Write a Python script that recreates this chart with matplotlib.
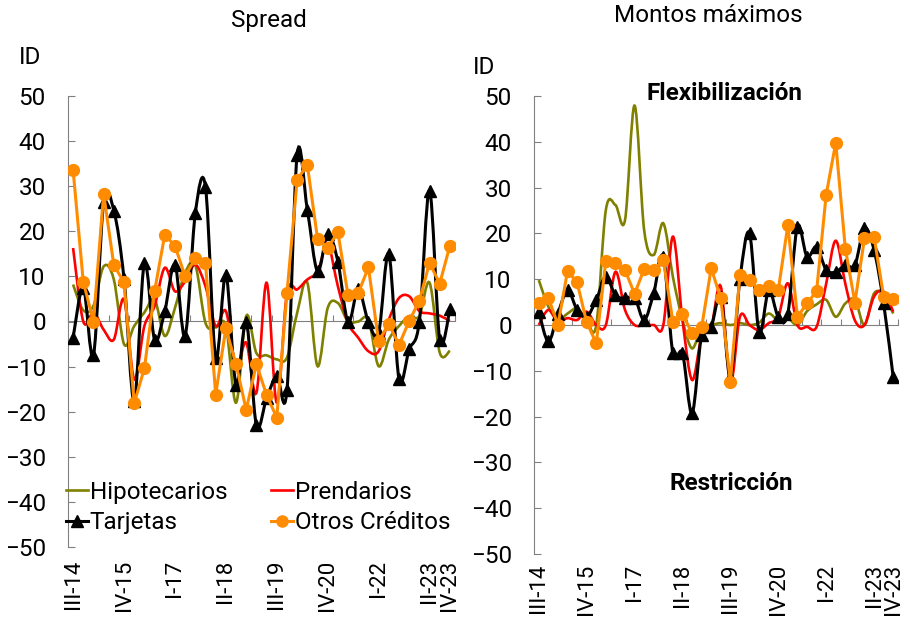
"""Encuesta de crédito: Spread y Montos máximos (ID por cartera)."""
import numpy as np
import matplotlib
matplotlib.use("Agg")
import matplotlib.pyplot as plt
from matplotlib.path import Path
from matplotlib.patches import PathPatch
from matplotlib.lines import Line2D

plt.rcParams['font.family'] = ['Roboto', 'DejaVu Sans']

ROMAN = ["I", "II", "III", "IV"]
quarters = []
for year in range(2014, 2024):
    for q in range(4):
        if year == 2014 and q < 2:
            continue
        quarters.append(f"{ROMAN[q]}-{str(year)[2:]}")
tick_idx = [0, 5, 10, 15, 20, 25, 30, 35, 37]

# Spread
hip_s = [8.2, 2.5, 3.5, 12.2, 9.3, -5.0, -1.0, 2.0, 4.9, -3.2, 3.0, 10.8, 12.5,
         -0.3, -1.3, -1.0, -18.0, 1.2, -7.0, -7.5, -8.4, -8.0, 1.9, 8.6, -9.9,
         3.0, 4.1, 0.0, 0.0, 0.4, -9.9, -4.0, -1.0, 1.2, 1.2, 8.6, -6.9, -6.5]
red_s = [16.3, 0.0, 2.0, -1.8, -4.0, 4.9, -12.8, -1.0, 3.4, 11.9, 6.7, 8.9, 12.6,
         7.8, -1.0, 2.3, -9.9, -4.7, -15.8, 8.6, -18.0, 6.3, 7.1, 9.3, 11.1,
         17.0, 7.8, -0.3, -3.6, -6.6, -6.6, 0.4, 5.2, 5.6, 2.3, 1.8, 1.3, 0.1]
tar_s = [-3.6, 7.5, -7.5, 26.4, 24.6, 9.5, -17.6, 13.0, -4.0, 2.3, 12.6, -3.2, 24.0,
         29.8, -8.0, 10.4, -14.0, -0.1, -23.0, -17.0, -12.1, -15.2, 37.0, 24.8, 11.1,
         19.4, 13.3, -0.1, 7.1, -0.1, -2.5, 15.0, -12.7, -6.2, 0.0, 29.0, -4.0, 2.7]
oth_s = [33.6, 8.8, 0.0, 28.3, 12.5, 8.7, -18.1, -10.4, 6.7, 19.2, 16.8, 10.0, 14.1,
         13.0, -16.2, -1.5, -9.5, -19.6, -9.4, -16.3, -21.3, 6.3, 31.4, 34.7, 18.4,
         16.3, 19.8, 5.8, 6.3, 12.0, -4.4, -0.5, -5.2, 0.1, 4.6, 13.0, 8.4, 16.8]

# Montos máximos
hip_m = [9.8, 4.0, 1.1, 2.5, 3.6, 1.0, 0.0, 25.1, 26.2, 22.9, 47.9, 20.7, 15.3,
         22.2, 10.5, 1.1, -5.1, -0.4, 0.0, 0.4, 0.0, 0.4, 0.0, 0.5, 2.5,
         1.0, 1.5, 0.0, 3.0, 4.5, 5.5, 1.8, 4.7, 5.5, 0.0, 6.9, 6.5, 2.5]
red_m = [0.0, 3.3, 0.7, 1.5, 1.1, 2.9, 0.0, 0.0, 11.6, 3.3, 0.0, 0.0, 0.0,
         0.0, 19.3, 1.1, -12.0, -2.5, -0.4, 8.4, -12.7, 1.8, 0.0, -1.1, 0.4,
         1.8, 9.1, 0.0, -0.4, -0.4, 9.0, 18.4, 9.0, 1.0, 0.0, 6.2, 7.3, 2.9]
tar_m = [2.9, -3.6, 2.5, 7.6, 3.3, 1.8, 5.5, 10.5, 6.5, 5.8, 6.0, 1.1, 7.0,
         14.9, -6.2, -6.2, -19.3, -2.2, -0.4, 6.2, -11.3, 10.0, 20.0, -1.5, 7.6,
         1.8, 2.5, 21.5, 14.9, 17.1, 12.0, 11.6, 13.1, 13.1, 21.1, 16.4, 4.7, -11.4]
oth_m = [4.7, 6.0, 0.0, 11.8, 9.3, 0.6, -4.0, 14.0, 13.6, 12.0, 6.8, 12.2, 11.9,
         14.2, 0.7, 2.4, -1.8, -0.5, 12.4, 5.8, -12.4, 10.9, 9.8, 7.6, 8.5,
         7.6, 21.8, 1.8, 4.7, 7.4, 28.4, 39.8, 16.7, 4.9, 18.9, 19.3, 6.2, 5.6]

C_HIP, C_PRE, C_TAR, C_OTR = "#808000", "#FF0000", "#000000", "#FF8C00"
GRAY = "#808080"
FS = 17.5
FS_X = 16


def smooth_path(x, y):
    # Excel-style smoothed line: cubic Bezier through every point
    pts = np.column_stack([x, y]).astype(float)
    n = len(pts)
    verts, codes = [pts[0]], [Path.MOVETO]
    for i in range(n - 1):
        p0, p1 = pts[max(i - 1, 0)], pts[i]
        p2, p3 = pts[i + 1], pts[min(i + 2, n - 1)]
        verts += [p1 + (p2 - p0) / 6, p2 - (p3 - p1) / 6, p2]
        codes += [Path.CURVE4] * 3
    return Path(verts, codes)


def draw(ax, hip, pre, tar, otr, label_pad):
    x = np.arange(len(quarters))
    ax.add_patch(PathPatch(smooth_path(x, hip), fc="none", ec=C_HIP, lw=1.9, zorder=2))
    ax.add_patch(PathPatch(smooth_path(x, pre), fc="none", ec=C_PRE, lw=1.9, zorder=3))
    ax.add_patch(PathPatch(smooth_path(x, tar), fc="none", ec=C_TAR, lw=2.2, zorder=4))
    ax.plot(x, tar, ls="none", marker="^", ms=8.5, color=C_TAR, zorder=4)
    ax.plot(x, otr, color=C_OTR, lw=2.2, marker="o", ms=8.5, zorder=5)

    ax.set_xlim(-0.5, len(quarters) - 0.5)
    ax.set_ylim(-50, 50)
    ax.set_yticks(range(-50, 51, 10))
    for s in ["top", "right", "bottom"]:
        ax.spines[s].set_visible(False)
    ax.spines["left"].set_color(GRAY)
    ax.tick_params(axis="y", direction="in", length=5, color=GRAY,
                   labelsize=FS, pad=16)
    ax.set_xticks(tick_idx)
    ax.set_xticklabels([quarters[i] for i in tick_idx], rotation=90)
    ax.tick_params(axis="x", length=0, labelsize=FS_X, pad=label_pad)

    zero = ax.secondary_xaxis(0.5)
    zero.set_xticks(np.arange(-0.5, len(quarters), 2))
    zero.tick_params(axis="x", direction="out", length=4, color=GRAY,
                     labeltop=False, labelbottom=False)
    for s in zero.spines.values():
        s.set_color(GRAY)


fig = plt.figure(figsize=(9.1, 6.2), dpi=100)
ax_s = fig.add_axes([68 / 910, 1 - 547 / 620, 387 / 910, 451 / 620])
ax_m = fig.add_axes([534 / 910, 1 - 554 / 620, 364 / 910, 458 / 620])

draw(ax_s, hip_s, red_s, tar_s, oth_s, label_pad=9)
draw(ax_m, hip_m, red_m, tar_m, oth_m, label_pad=7)

fig.text(269 / 910, 1 - 20 / 620, "Spread", ha="center", va="center", fontsize=FS)
fig.text(708 / 910, 1 - 16 / 620, "Montos máximos", ha="center", va="center", fontsize=FS)
fig.text(30 / 910, 1 - 57 / 620, "ID", ha="center", va="center", fontsize=FS)
fig.text(484 / 910, 1 - 67 / 620, "ID", ha="center", va="center", fontsize=FS)
fig.text(725 / 910, 1 - 93 / 620, "Flexibilización", ha="center", va="center",
         fontsize=FS, fontweight="bold")
fig.text(731 / 910, 1 - 483 / 620, "Restricción", ha="center", va="center",
         fontsize=FS, fontweight="bold")

handles = [
    Line2D([], [], color=C_HIP, lw=1.9),
    Line2D([], [], color=C_TAR, lw=2.2, marker="^", ms=8),
    Line2D([], [], color=C_PRE, lw=1.9),
    Line2D([], [], color=C_OTR, lw=2.2, marker="o", ms=8),
]
labels = ["Hipotecarios", "Tarjetas", "Prendarios", "Otros Créditos"]
ax_s.legend(handles, labels, ncol=2, loc="upper left",
            bbox_to_anchor=(66 / 910, 1 - 481 / 620), bbox_transform=fig.transFigure,
            frameon=False, fontsize=FS, handlelength=0.9, handletextpad=0.08,
            columnspacing=1.8, labelspacing=0.3, borderpad=0, borderaxespad=0)

fig.savefig("out.png", dpi=100)
